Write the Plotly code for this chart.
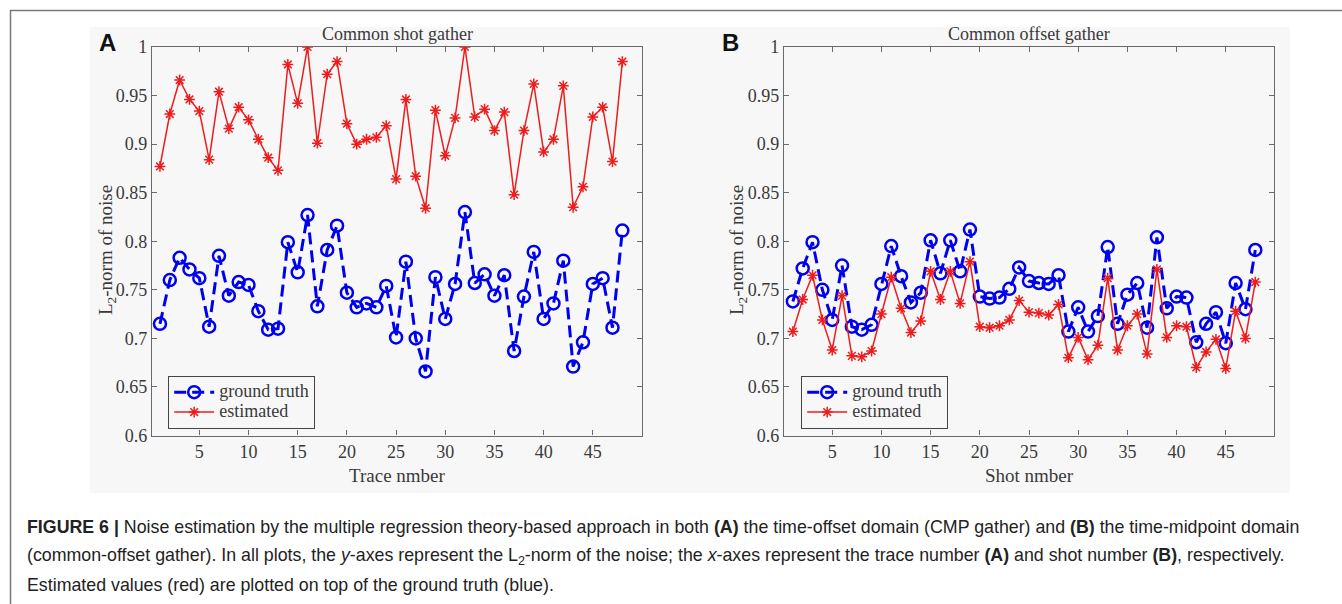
import plotly.graph_objects as go

W, H = 1342, 604

trace_no = list(range(1, 49))
shot_no = list(range(1, 49))

a_truth = [0.715, 0.760, 0.783, 0.771, 0.762, 0.712, 0.785, 0.744, 0.758, 0.755,
           0.728, 0.709, 0.710, 0.799, 0.768, 0.827, 0.733, 0.791, 0.816, 0.747,
           0.732, 0.736, 0.732, 0.754, 0.701, 0.779, 0.700, 0.666, 0.763, 0.720,
           0.756, 0.830, 0.757, 0.766, 0.744, 0.765, 0.687, 0.743, 0.789, 0.720,
           0.736, 0.780, 0.671, 0.696, 0.756, 0.762, 0.711, 0.811]
a_est = [0.877, 0.931, 0.966, 0.946, 0.934, 0.884, 0.954, 0.916, 0.938, 0.925,
         0.905, 0.886, 0.873, 0.982, 0.942, 1.000, 0.901, 0.972, 0.985, 0.921,
         0.900, 0.905, 0.907, 0.919, 0.864, 0.946, 0.867, 0.834, 0.935, 0.888,
         0.927, 1.000, 0.928, 0.936, 0.914, 0.933, 0.848, 0.914, 0.962, 0.892,
         0.905, 0.960, 0.835, 0.856, 0.928, 0.938, 0.882, 0.985]

b_truth = [0.738, 0.772, 0.799, 0.750, 0.719, 0.775, 0.712, 0.709, 0.714, 0.756,
           0.795, 0.764, 0.737, 0.747, 0.801, 0.767, 0.801, 0.769, 0.812, 0.743,
           0.741, 0.742, 0.751, 0.773, 0.759, 0.757, 0.756, 0.765, 0.707, 0.732,
           0.707, 0.723, 0.794, 0.715, 0.745, 0.757, 0.711, 0.804, 0.731, 0.743,
           0.742, 0.696, 0.715, 0.727, 0.695, 0.757, 0.730, 0.791]
b_est = [0.707, 0.740, 0.765, 0.719, 0.688, 0.744, 0.682, 0.681, 0.687, 0.725,
         0.763, 0.731, 0.706, 0.718, 0.769, 0.740, 0.769, 0.736, 0.779, 0.712,
         0.711, 0.713, 0.719, 0.739, 0.727, 0.726, 0.724, 0.735, 0.680, 0.701,
         0.678, 0.693, 0.762, 0.688, 0.713, 0.725, 0.684, 0.771, 0.701, 0.713,
         0.712, 0.670, 0.686, 0.699, 0.669, 0.728, 0.700, 0.758]

series_names = ["ground truth", "estimated"]
x_ticks = [5, 10, 15, 20, 25, 30, 35, 40, 45]
y_ticks = [0.6, 0.65, 0.7, 0.75, 0.8, 0.85, 0.9, 0.95, 1.0]
y_tick_text = ["0.6", "0.65", "0.7", "0.75", "0.8", "0.85", "0.9", "0.95", "1"]

BLUE = "#0000f0"
RED = "#ee1c1c"
SERIF = "Liberation Serif, Times New Roman, serif"
SANS = "Liberation Sans, Arial, sans-serif"
TXT = "#3a3a3a"
AX = "#6a6a6a"


def px(x):
    return x / W


def py(y):
    return 1 - y / H


def legname(s):
    return "<span style='font-size:18px'>%s</span>" % s


fig = go.Figure()

for (xs, truth, est, xa, ya, leg) in [
    (trace_no, a_truth, a_est, "x", "y", "legend"),
    (shot_no, b_truth, b_est, "x2", "y2", "legend2"),
]:
    fig.add_trace(go.Scatter(
        x=xs, y=truth, name=legname(series_names[0]), mode="lines+markers",
        xaxis=xa, yaxis=ya, legend=leg,
        line=dict(color=BLUE, width=3, dash="12px,6px"),
        marker=dict(symbol="circle-open", size=12, color=BLUE,
                    line=dict(color=BLUE, width=2.5)),
    ))
    fig.add_trace(go.Scatter(
        x=xs, y=est, name=legname(series_names[1]), mode="lines+markers",
        xaxis=xa, yaxis=ya, legend=leg,
        line=dict(color=RED, width=1.5),
        marker=dict(symbol="asterisk-open", size=9, color=RED,
                    line=dict(color=RED, width=1.5)),
    ))

ytop, ybot = 47, 435.5
axis_common = dict(
    showgrid=False, zeroline=False, showline=True, linecolor=AX, linewidth=1.2,
    mirror="allticks", ticks="inside", ticklen=5, tickcolor=AX, tickwidth=1,
    tickfont=dict(family=SERIF, size=18, color=TXT), automargin=False,
)
fig.update_layout(
    xaxis=dict(domain=[px(152), px(642)], range=[0.19, 50.0], tickvals=x_ticks,
               anchor="y", **axis_common),
    yaxis=dict(domain=[py(ybot), py(ytop)], range=[0.6, 1.0], tickvals=y_ticks,
               ticktext=y_tick_text, anchor="x", **axis_common),
    xaxis2=dict(domain=[px(784), px(1274)], range=[0.1, 49.9], tickvals=x_ticks,
                anchor="y2", **axis_common),
    yaxis2=dict(domain=[py(ybot), py(ytop)], range=[0.6, 1.0], tickvals=y_ticks,
                ticktext=y_tick_text, anchor="x2", **axis_common),
)

legend_common = dict(
    bgcolor="rgba(255,255,255,0)", bordercolor="#444", borderwidth=1.2,
    font=dict(family=SERIF, size=13, color=TXT), xanchor="left", yanchor="top",
    tracegroupgap=0, itemwidth=40,
)
fig.update_layout(
    legend=dict(x=px(168), y=py(376), **legend_common),
    legend2=dict(x=px(801), y=py(376), **legend_common),
)

shapes = [
    dict(type="rect", xref="paper", yref="paper", x0=px(90), x1=px(1290),
         y0=py(493), y1=py(27), fillcolor="#f7f7f7", line=dict(width=0), layer="below"),
    dict(type="line", xref="paper", yref="paper", x0=px(10), x1=1.0,
         y0=py(10.5), y1=py(10.5), line=dict(color="#7a7a7a", width=1.5)),
    dict(type="line", xref="paper", yref="paper", x0=px(10.5), x1=px(10.5),
         y0=py(10), y1=0.0, line=dict(color="#7a7a7a", width=1.5)),
]

ann = []
for cx, title, xt, lab, labx in [
    (397, "Common shot gather", "Trace nmber", "A", 107),
    (1029, "Common offset gather", "Shot nmber", "B", 730),
]:
    ann.append(dict(text=title, x=px(cx), y=py(34), xanchor="center", yanchor="middle",
                    font=dict(family=SERIF, size=18, color=TXT)))
    ann.append(dict(text=xt, x=px(cx), y=py(475), xanchor="center", yanchor="middle",
                    font=dict(family=SERIF, size=19, color=TXT)))
    ann.append(dict(text="<b>%s</b>" % lab, x=px(labx), y=py(43), xanchor="center",
                    yanchor="middle", font=dict(family=SANS, size=24, color="#111")))
for yx in (107, 738):
    ann.append(dict(text="L<sub>2</sub>-norm of noise", x=px(yx), y=py(250),
                    xanchor="center", yanchor="middle", textangle=-90,
                    font=dict(family=SERIF, size=19, color=TXT)))

caption = [
    "<b>FIGURE 6 |</b> Noise estimation by the multiple regression theory-based approach in both "
    "<b>(A)</b> the time-offset domain (CMP gather) and <b>(B)</b> the time-midpoint domain",
    "(common-offset gather). In all plots, the <i>y</i>-axes represent the L<sub>2</sub>-norm of the noise; "
    "the <i>x</i>-axes represent the trace number <b>(A)</b> and shot number <b>(B)</b>, respectively.",
    "Estimated values (red) are plotted on top of the ground truth (blue).",
]
for i, line in enumerate(caption):
    ann.append(dict(text=line, x=px(25), y=py(527 + 29 * i), xanchor="left",
                    yanchor="middle", font=dict(family=SANS, size=17.8, color="#222")))

for a in ann:
    a.update(xref="paper", yref="paper", showarrow=False)

fig.update_layout(
    width=W, height=H, margin=dict(l=0, r=0, t=0, b=0, pad=0, autoexpand=False),
    paper_bgcolor="white", plot_bgcolor="#fbfbfb",
    shapes=shapes, annotations=ann, showlegend=True,
)

fig.write_html(
    "out.html",
    post_script="document.body.style.margin='0';document.body.style.overflow='hidden';",
)
